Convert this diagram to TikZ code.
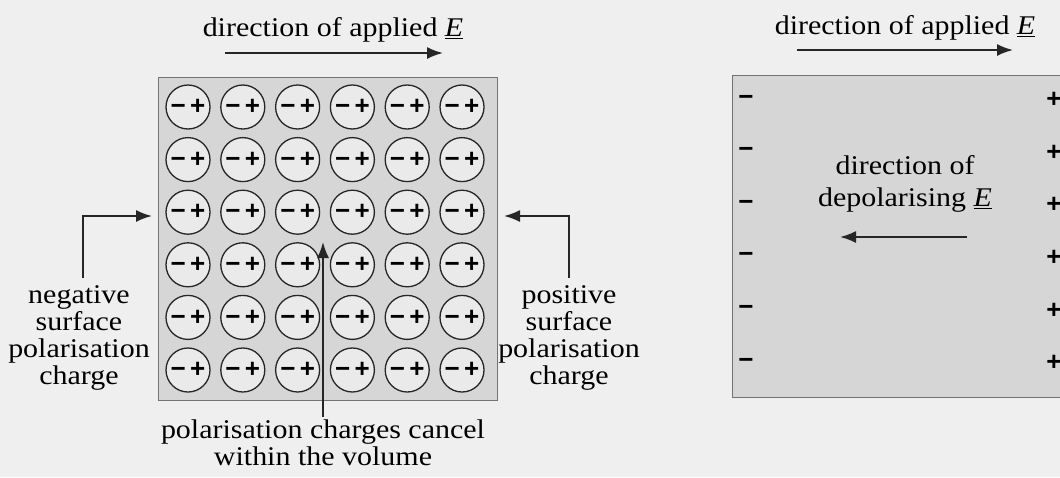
\documentclass[tikz,border=0pt]{standalone}
\usepackage{fontspec}
\setmainfont{Liberation Serif}[FakeStretch=1.11]
\newfontfamily\signfont{Liberation Sans}
\usetikzlibrary{arrows.meta}
\definecolor{paper}{HTML}{EFEFEF}
\definecolor{slab}{HTML}{D6D6D6}
\definecolor{atom}{HTML}{EAEAEA}
\begin{document}
\begin{tikzpicture}[x=1pt,y=-1pt,
	lbl/.style={font=\fontsize{27}{26.8}\selectfont, align=center, inner sep=0pt},
	arr/.style={line width=1.8pt, draw=black!85, -{Latex[length=16pt,width=12pt]}},
	dipole/.style={circle, draw=black!85, line width=1.3pt, fill=atom, minimum size=44pt, inner sep=0pt,
		font=\signfont\bfseries\fontsize{26}{26}\selectfont},
	sign/.style={inner sep=0pt, font=\signfont\bfseries\fontsize{26}{26}\selectfont}]
		\fill[paper] (0,0) rectangle (1060,477);
		\useasboundingbox (0,0) rectangle (1060,477);
		\clip (0,0) rectangle (1060,477);
		% polarised slab with dipoles
		\draw[fill=slab, draw=black!55, line width=0.8pt] (158,77) rectangle (497,400);
		\foreach \r in {0,...,5}
			\foreach \c in {0,...,5}
				\node[dipole] (d-\r-\c) at (188+54.8*\c,107+52.6*\r) {\char"2212\,+};
		\node[lbl] (applied1) at (333,30) {direction of applied \underline{\textit{E}}};
		\coordinate (a1s) at (225,53);
		\coordinate (a1e) at (443,53);
		\draw[arr] (a1s) -- (a1e);
		% surface charges
		\node[lbl] (negq) at (79,338) {negative\\surface\\polarisation\\charge};
		\coordinate (negtip) at (152,216);
		\draw[arr] ([xshift=4pt]negq.north) ++(0,-8) |- (negtip);
		\node[lbl] (posq) at (569,338) {positive\\surface\\polarisation\\charge};
		\coordinate (postip) at (504,216);
		\draw[arr] (posq.north) ++(0,-8) |- (postip);
		\node[lbl] (cancel) at (323,443) {polarisation charges cancel\\within the volume};
		\coordinate (canceltip) at (323,242);
		\draw[arr] (cancel.north) ++(0,-3) -- (canceltip);
		% equivalent slab
		\draw[fill=slab, draw=black!55, line width=0.8pt] (732,75) rectangle (1070,397);
		\foreach \r in {0,...,5} {
			\node[sign] (m-\r) at (746,100+52.6*\r) {\char"2212};
			\node[sign] (p-\r) at (1054,100+52.6*\r) {+};
		}
		\node[lbl] (applied2) at (905,28) {direction of applied \underline{\textit{E}}};
		\coordinate (a2s) at (797,50);
		\coordinate (a2e) at (1013,50);
		\draw[arr] (a2s) -- (a2e);
		\node[lbl] (depol) at (905,184) {direction of\\[5pt]depolarising \underline{\textit{E}}};
		\coordinate (d2s) at (967,237);
		\coordinate (d2e) at (840,237);
		\draw[arr] (d2s) -- (d2e);
\end{tikzpicture}
\end{document}
